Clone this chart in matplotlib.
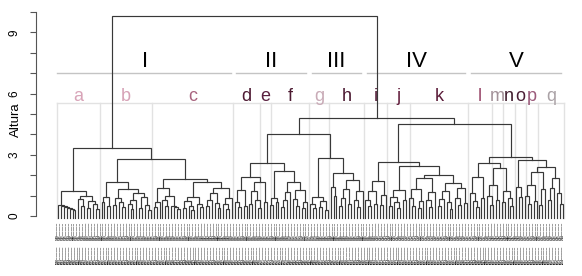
import numpy as np
import matplotlib.pyplot as plt

plt.rcParams['font.family'] = ['Liberation Sans', 'DejaVu Sans']

# merge heights (Altura)
# 0 = one leaf, a bare number = two leaves joined at that height,
# a list = [height, left, right]
tree_a = [1.2, [0.55, 0, [0.5, 0, [0.45, 0, [0.4, 0, [0.35, 0, 0.28]]]]],
          [1.0, [0.85, 0, 0.5], [0.75, 0.4, [0.6, 0, 0.35]]]]
tree_b = [1.65, [0.95, 0.7, 0.5],
          [1.3, [0.9, 0.55, [0.7, 0, 0.45]],
           [1.1, [0.8, [0.6, 0, 0.35], 0], [0.95, 0.4, [0.55, 0, 0.3]]]]]
tree_c = [1.8, [1.35, [0.7, 0.45, 0], [1.0, [0.8, 0, 0.5], [0.5, 0, [0.42, 0, 0.33]]]],
          [1.65, [0.95, [0.75, 0.4, [0.5, 0, 0.3]], [0.6, 0, 0.45]],
           [1.35, [1.1, [0.8, 0.5, 0], [0.65, 0, 0.4]], [0.9, [0.6, 0, 0.35], 0]]]]
tree_II = [2.6, [1.9, [1.27, [0.7, 0, 0.45], 0.5], [1.65, [1.2, 0.6, [0.8, 0, 0.4]], 0.7]],
           [2.2, [0.9, 0.55, 0.7],
            [1.65, [1.15, [0.8, 0.45, 0], 0], [1.25, [0.85, 0, 0.5], [0.7, 0.4, 0]]]]]
tree_III = [2.85, [0.95, [0.6, 0, 0.4], [0.75, 0.45, 0.3]],
            [2.1, [1.4, 0, 1.0], [1.75, [1.3, [0.9, 0.5, 0], 0.6], [1.2, [0.8, 0, 0.45], 0]]]]
tree_IV = [2.65, [1.7, [1.2, [0.8, 0, 0.5], 0.6], [1.05, 0.55, 0]],
           [2.45, [1.27, [0.95, 0.5, [0.7, 0, 0.4]], 0.8],
            [2.0, [1.85, [1.3, [0.9, 0, 0.5], [0.75, 0.4, 0]], [1.15, [0.8, 0, 0.45], 0]],
             [1.6, [1.2, [0.85, 0.5, 0], [0.7, 0, 0.35]], [1.35, [0.9, 0, 0.55], 0.65]]]]]
tree_V = [2.9, [2.6, [1.9, [1.1, 0, [0.75, 0, 0.45]], 0.9],
                [2.35, [1.5, [1.0, 0, 0.55], 0.8], [1.2, 0.7, [0.9, 0, 0.5]]]],
          [2.75, [1.4, 0, 0.95],
           [2.4, [2.15, [1.5, [1.0, 0, 0.6], 0.75], [1.3, 0.55, 0]],
            [1.85, [1.35, 0.8, 0], [1.1, 0, 0.6]]]]]

root = [9.8, [3.35, tree_a, [2.8, tree_b, tree_c]],
        [4.8, [4.0, tree_II, tree_III], [4.5, tree_IV, tree_V]]]

# subgroups and clusters
groups = ['a', 'b', 'c', 'd', 'e', 'f', 'g', 'h', 'i', 'j', 'k', 'l', 'm', 'n', 'o', 'p', 'q']
group_sizes = [15, 18, 28, 9, 4, 13, 7, 12, 8, 8, 20, 8, 4, 4, 4, 4, 9]
group_colors = ['#d8a4b8', '#d6a2b6', '#a8647f', '#4e1a33', '#5a2140', '#4c1a31', '#c9abb7',
                '#4a1830', '#511b36', '#64203f', '#5a1b38', '#9a4a6c', '#a39299', '#3f1b2c',
                '#4b1f36', '#9b5b7b', '#aaa2a6']
clusters = ['I', 'II', 'III', 'IV', 'V']
cluster_n_groups = [3, 3, 2, 3, 6]

# leaf labels (two parts, too small to read in the picture)
n_leaves = sum(group_sizes)
label_top = ['%04d\u2014\u2014\u2014\u2014\u2014' % (3590 + k) for k in range(n_leaves)]
label_bottom = ['%04d\u2014\u2014\u2014\u2014\u2014' % (1100 + k) for k in range(n_leaves)]

fig = plt.figure(figsize=(5.82, 2.76), dpi=100)
ax = fig.add_axes([36/582, (276-220)/276, (570-36)/582, (220-8)/276])
ax.set_xlim((36-58)/2.9, (570-58)/2.9)
ax.set_ylim(-0.2, 10.2)

leaf_bottom = -0.1
count = [0]

def draw(node):
    if isinstance(node, int):
        x = count[0]
        count[0] += 1
        return x, leaf_bottom
    if isinstance(node, float):
        node = [node, 0, 0]
    h, left, right = node
    xl, hl = draw(left)
    xr, hr = draw(right)
    ax.plot([xl, xl, xr, xr], [hl, h, h, hr], color='#383838', lw=0.85,
            solid_joinstyle='miter', zorder=3)
    return (xl + xr) / 2, h

draw(root)

# leaf labels
for k in range(n_leaves):
    ax.text(k, -0.3, label_top[k], rotation=90, ha='center', va='top', fontsize=1.8,
            fontweight='bold', color='black', clip_on=False)
    ax.text(k, -1.47, label_bottom[k], rotation=90, ha='center', va='top', fontsize=1.8,
            fontweight='bold', color='black', clip_on=False)

# subgroup boxes and letters
edges = np.concatenate([[0], np.cumsum(group_sizes)]) - 0.5
box_top = 5.54
ax.plot([edges[0], edges[-1]], [box_top, box_top], color='#e2e2e2', lw=1, zorder=1)
for e in edges:
    ax.plot([e, e], [leaf_bottom, box_top], color='#e2e2e2', lw=1, zorder=1)
for k, g in enumerate(groups):
    ax.text((edges[k] + edges[k+1]) / 2, 5.64, g, ha='center', va='baseline',
            fontsize=13, color=group_colors[k])

# clusters
cl_edges = edges[np.concatenate([[0], np.cumsum(cluster_n_groups)])]
for k, c in enumerate(clusters):
    x0, x1 = cl_edges[k], cl_edges[k+1]
    ax.plot([x0 + (1.0 if k else 0), x1 - 1.0], [7.0, 7.0], color='#c4c4c4', lw=1)
    ax.text((x0 + x1) / 2, 7.3, c, ha='center', va='baseline', fontsize=16, color='black')

for s in ['top', 'right', 'bottom']:
    ax.spines[s].set_visible(False)
ax.spines['left'].set_bounds(0, 10)
ax.spines['left'].set_color('#555555')
ax.set_xticks([])
ax.set_yticks([0, 3, 6, 9])
ax.set_yticks([1, 2, 4, 5, 7, 8, 10], minor=True)
ax.tick_params(axis='y', which='both', length=4, color='#555555', width=0.8)
ax.tick_params(axis='y', which='major', labelsize=8.5, pad=7)
for t in ax.get_yticklabels():
    t.set_rotation(90)
    t.set_va('center')
fig.text(16/582, 1 - 120/276, 'Altura', rotation=90, ha='center', va='center', fontsize=9.5)

fig.savefig('out.png', dpi=100)
